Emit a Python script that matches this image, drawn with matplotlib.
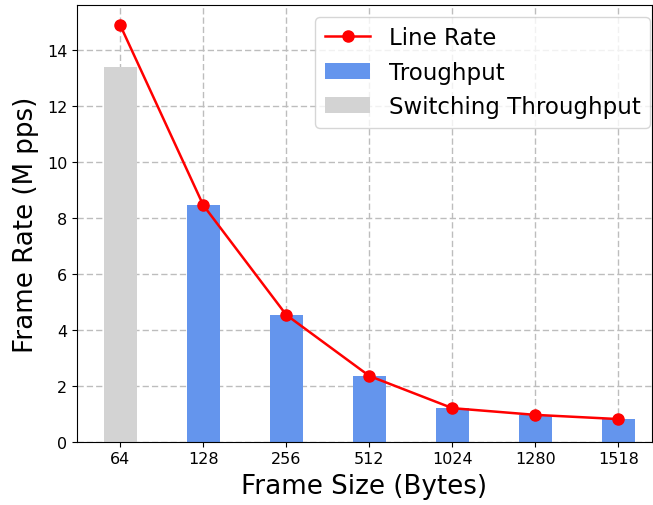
import matplotlib
matplotlib.use('Agg')
import matplotlib.pyplot as plt
import numpy as np

frame_sizes = ['64', '128', '256', '512', '1024', '1280', '1518']
line_rate = [14.88, 8.45, 4.53, 2.35, 1.20, 0.96, 0.81]
switching_throughput = [13.4]          # only the 64 byte frame
throughput = [8.45, 4.53, 2.35, 1.20, 0.96, 0.81]

fig, ax = plt.subplots(figsize=(6.53, 5.06), dpi=100)
x = np.arange(len(frame_sizes))

ax.plot(x, line_rate, color='red', marker='o', markersize=8, linewidth=1.8, label='Line Rate', zorder=3)
ax.bar(x[1:], throughput, width=0.4, color='cornflowerblue', label='Troughput', zorder=2)
ax.bar(x[:1], switching_throughput, width=0.4, color='lightgray', label='Switching Throughput', zorder=2)

ax.set_xticks(x)
ax.set_xticklabels(frame_sizes)
ax.tick_params(axis='both', labelsize=11.5)
ax.set_xlim(-0.52, 6.4)
ax.set_ylim(0, 15.6)
ax.set_xlabel('Frame Size (Bytes)', fontsize=18.8, labelpad=5)
ax.set_ylabel('Frame Rate (M pps)', fontsize=18.8, labelpad=6)
ax.grid(True, linestyle=(0, (4.5, 2.2)), color='#bdbdbd', linewidth=1, zorder=0)
ax.set_axisbelow(True)

ax.legend(loc='upper right', fontsize=16.5, borderaxespad=0,
          bbox_to_anchor=(0.9965, 0.972))

fig.subplots_adjust(left=0.118, right=0.998, top=0.988, bottom=0.125)
fig.savefig('out.png', dpi=100)
